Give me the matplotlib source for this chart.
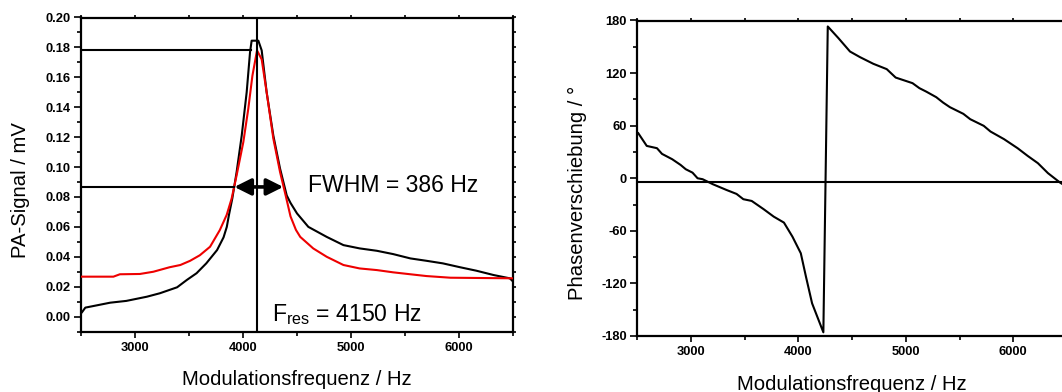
import matplotlib
matplotlib.use("Agg")
import matplotlib.pyplot as plt
from matplotlib.ticker import MultipleLocator, FormatStrFormatter

plt.rcParams['font.family'] = ['Liberation Sans', 'DejaVu Sans']
plt.rcParams['axes.unicode_minus'] = False

# ---------------- data ----------------
# left panel: PA signal (black and red curves)
black_f = [2510, 2540, 2610, 2770, 2920, 3110, 3230, 3390, 3480, 3570, 3660, 3760,
           3820, 3850, 3870, 3901, 3941, 3988, 4034, 4065, 4080, 4142, 4173, 4219,
           4281, 4343, 4405, 4440, 4500, 4605, 4775, 4930, 5080, 5240, 5390, 5550,
           5700, 5850, 6010, 6160, 6320, 6470, 6500]
black_v = [0.003, 0.006, 0.007, 0.0093, 0.0105, 0.0133, 0.0156, 0.0196, 0.0245, 0.029,
           0.0356, 0.0445, 0.053, 0.060, 0.068, 0.079, 0.0967, 0.121, 0.150, 0.1767,
           0.1845, 0.1845, 0.178, 0.150, 0.121, 0.099, 0.081, 0.076, 0.069, 0.060,
           0.0533, 0.0478, 0.0456, 0.044, 0.0418, 0.0389, 0.0373, 0.0356, 0.033,
           0.0307, 0.0278, 0.0256, 0.0235]

red_f = [2505, 2800, 2860, 3045, 3170, 3320, 3420, 3510, 3600, 3695, 3785, 3849, 3895,
         3941, 4003, 4049, 4087, 4130, 4173, 4219, 4281, 4343, 4395, 4440, 4490, 4530,
         4650, 4775, 4930, 5080, 5240, 5390, 5550, 5700, 5920, 6500]
red_v = [0.0267, 0.0267, 0.0283, 0.0285, 0.030, 0.033, 0.0345, 0.0373, 0.041, 0.0467,
         0.0578, 0.068, 0.079, 0.0945, 0.1167, 0.139, 0.161, 0.178, 0.172, 0.150,
         0.119, 0.0967, 0.081, 0.067, 0.058, 0.0533, 0.0456, 0.040, 0.0345, 0.0322,
         0.0311, 0.0296, 0.0283, 0.0271, 0.026, 0.0256]

# annotation values (left panel)
f_res_line = 4130
peak_level = 0.178
peak_line_end = 4074
half_level = 0.0867
arrow_left = 3920
arrow_right = 4373

# right panel: phase shift
phase_f = [2509, 2588, 2683, 2730, 2825, 2903, 2951, 3014, 3061, 3108, 3203, 3329,
           3424, 3487, 3565, 3676, 3770, 3865, 3944, 4022, 4070, 4127, 4232,
           4273, 4372, 4480, 4573, 4697, 4822, 4905, 5062, 5126, 5189, 5283, 5346,
           5410, 5535, 5599, 5725, 5788, 5914, 6040, 6134, 6229, 6323, 6436, 6500]
phase_v = [51.4, 36.9, 34.3, 27.8, 21.7, 15.2, 10.3, 6.4, 0.0, -1.1, -6.8, -13.3,
           -17.9, -23.9, -25.9, -35.3, -43.8, -50.6, -66.6, -85.6, -112.3, -142.7, -175.8,
           173.2, 159.9, 144.6, 138.2, 130.6, 124.5, 114.9, 108.5, 102.8, 98.9, 92.5, 86.4,
           81.1, 73.5, 67.4, 59.8, 53.3, 44.6, 34.3, 25.5, 17.2, 5.8, -5.0, -10.0]
phase_zero_line = -4.5

xlabel_text = "Modulationsfrequenz / Hz"

# ---------------- figure ----------------
fig = plt.figure(figsize=(10.62, 3.92), dpi=100)
W, H = 1062, 392

def axes_px(l, t, r, b):
    return fig.add_axes([l / W, 1 - b / H, (r - l) / W, (b - t) / H])

ax1 = axes_px(81, 17.5, 513, 332.3)
ax2 = axes_px(637.3, 20.5, 1067, 336)

tick_fs = 9.3
lab_fs = 14.6

def style(ax):
    for s in ax.spines.values():
        s.set_linewidth(1.6)
    ax.tick_params(axis='both', which='major', direction='out', width=1.2,
                   length=4.5, pad=2.5, labelsize=tick_fs)
    ax.tick_params(axis='y', which='major', length=5.0)
    ax.tick_params(axis='both', which='minor', direction='out', width=1.2, length=3.0)
    ax.tick_params(axis='x', which='both', top=True)
    ax.tick_params(axis='y', which='both', right=True)

# ---- left panel ----
ax1.plot(black_f, black_v, color='black', lw=1.5, zorder=3)
ax1.plot(red_f, red_v, color='#ee0000', lw=1.5, zorder=4)
ax1.set_xlim(2500, 6500)
ax1.set_ylim(-0.0105, 0.20)
ax1.xaxis.set_major_locator(MultipleLocator(1000))
ax1.xaxis.set_minor_locator(MultipleLocator(500))
ax1.yaxis.set_major_locator(MultipleLocator(0.02))
ax1.yaxis.set_minor_locator(MultipleLocator(0.01))
ax1.yaxis.set_major_formatter(FormatStrFormatter('%.2f'))

ax1.axvline(f_res_line, color='black', lw=1.5, zorder=5)
ax1.plot([2500, peak_line_end], [peak_level, peak_level], color='black', lw=1.5, zorder=5)
ax1.plot([2500, arrow_left], [half_level, half_level], color='black', lw=1.5, zorder=5)
ax1.annotate('', xy=(arrow_left, half_level), xytext=(arrow_right, half_level),
             arrowprops=dict(arrowstyle='<|-|>,head_length=0.5,head_width=0.25',
                             lw=2.6, color='black', mutation_scale=20,
                             shrinkA=0, shrinkB=0), zorder=6)
ax1.text(4602, 0.0833, 'FWHM = 386 Hz', fontsize=16.6, ha='left', va='baseline')
ax1.text(4268, -0.0027, r'F$_\mathregular{res}$ = 4150 Hz', fontsize=16.6,
         ha='left', va='baseline')

ax1.set_xlabel(xlabel_text, fontsize=lab_fs, va='baseline')
ax1.xaxis.set_label_coords(0.5, -(384.6 - 332.3) / 314.8)
ax1.set_ylabel('PA-Signal / mV', fontsize=lab_fs, va='center')
ax1.yaxis.set_label_coords((20 - 81) / 432, 1 - (189.8 - 17.5) / 314.8)

# ---- right panel ----
ax2.plot(phase_f, phase_v, color='black', lw=1.5, zorder=3)
ax2.axhline(phase_zero_line, color='black', lw=1.5, zorder=4)
ax2.set_xlim(2500, 6500)
ax2.set_ylim(-180, 180)
ax2.xaxis.set_major_locator(MultipleLocator(1000))
ax2.xaxis.set_minor_locator(MultipleLocator(500))
ax2.yaxis.set_major_locator(MultipleLocator(60))
ax2.yaxis.set_minor_locator(MultipleLocator(30))

ax2.set_xlabel(xlabel_text, fontsize=lab_fs, va='baseline')
ax2.xaxis.set_label_coords((852 - 637.3) / 429.7, -(389.6 - 336) / 315.5)
ax2.set_ylabel('Phasenverschiebung / °', fontsize=lab_fs, va='center')
ax2.yaxis.set_label_coords((577.5 - 637.3) / 429.7, 1 - (193 - 20.5) / 315.5)

for ax in (ax1, ax2):
    style(ax)
    for tk in ax.xaxis.get_major_ticks() + ax.xaxis.get_minor_ticks():
        tk.tick2line.set_markersize(2.2)
    for tk in ax.yaxis.get_major_ticks() + ax.yaxis.get_minor_ticks():
        tk.tick2line.set_markersize(2.2)
    for t in ax.get_xticklabels() + ax.get_yticklabels():
        t.set_fontweight('bold')

fig.savefig('out.png', dpi=100)
